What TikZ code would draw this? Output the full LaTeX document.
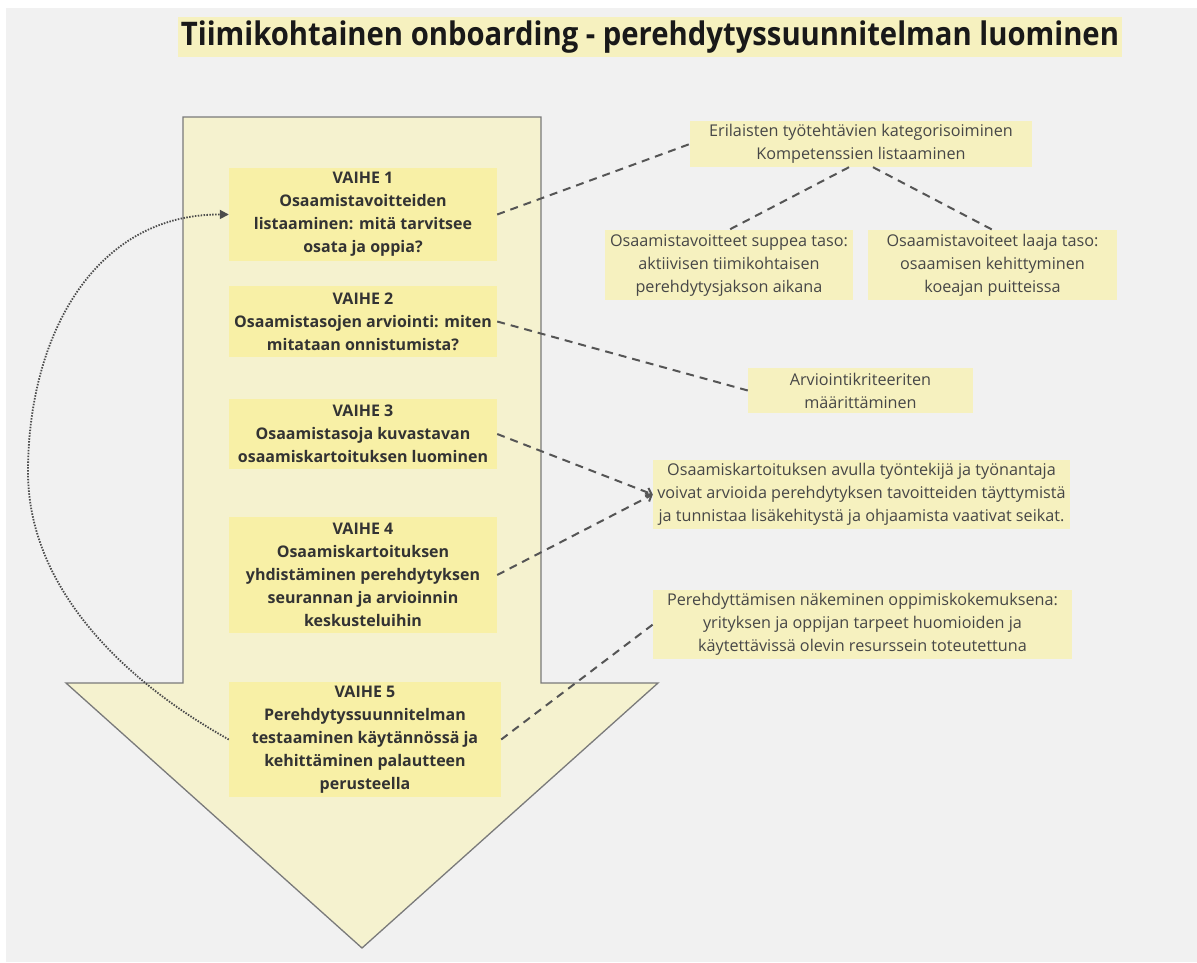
\documentclass[tikz,border=0pt]{standalone}
\usepackage{fontspec}
\setmainfont{Open Sans}
\usetikzlibrary{arrows.meta}
\definecolor{bggray}{HTML}{F1F1F1}
\definecolor{arrowcream}{HTML}{F5F2CF}
\definecolor{arrowline}{HTML}{7A7A7A}
\definecolor{stepyellow}{HTML}{F8F0A6}
\definecolor{noteyellow}{HTML}{F6F1BF}
\definecolor{textdark}{HTML}{333333}
\definecolor{linkgray}{HTML}{555555}
\tikzset{
    titlebox/.style = {
        rectangle, fill=noteyellow, text=black!90,
        font=\bfseries\fontsize{32.5}{34}\selectfont,
        minimum width=944pt, minimum height=40pt,
        inner sep=0pt
    },
    vaihe/.style = {
        rectangle, fill=stepyellow, text=textdark,
        font=\bfseries\fontsize{16}{23}\selectfont,
        minimum width=268pt, inner sep=0pt,
        align=center
    },
    notebox/.style = {
        rectangle, fill=noteyellow, text=textdark!90,
        font=\fontsize{16.2}{23}\selectfont,
        inner sep=0pt, align=center
    },
    bigarrow/.style = {
        fill=arrowcream, draw=arrowline, line width=1.3pt
    },
    link/.style = {
        draw=linkgray, line width=2pt, dash pattern=on 8pt off 6pt
    },
    backlink/.style = {
        draw=linkgray!90!black, line width=1.8pt, dash pattern=on 1.5pt off 1.4pt,
        -{Triangle[length=9pt,width=9pt]}
    }
}

\begin{document}
\begin{tikzpicture}[x=1pt, y=-1pt]

\useasboundingbox (0,0) rectangle (1197,962);
\fill[white] (0,0) rectangle (1197,962);
\fill[bggray] (6,8) rectangle (1197,962);

\node (title) [titlebox] at (650,37) {\scalebox{0.9}[1]{Tiimikohtainen onboarding - perehdytyssuunnitelman luominen}};

\draw[bigarrow] (183,117) -- (541,117) -- (541,683) -- (658,683) -- (362,948)
    -- (66,683) -- (183,683) -- cycle;

\node (v1) [vaihe, minimum height=93pt] at (363,214.5) {VAIHE 1\\Osaamistavoitteiden\\listaaminen: mitä tarvitsee\\osata ja oppia?};
\node (v2) [vaihe, minimum height=71pt] at (363,321.5) {VAIHE 2\\Osaamistasojen arviointi: miten\\mitataan onnistumista?};
\node (v3) [vaihe, minimum height=70pt] at (363,434) {VAIHE 3\\Osaamistasoja kuvastavan\\osaamiskartoituksen luominen};
\node (v4) [vaihe, minimum height=116pt] at (363,575) {VAIHE 4\\Osaamiskartoituksen\\yhdistäminen perehdytyksen\\seurannan ja arvioinnin\\keskusteluihin};
\node (v5) [vaihe, minimum width=272pt, minimum height=115pt] at (365,739.5) {VAIHE 5\\Perehdytyssuunnitelman\\testaaminen käytännössä ja\\kehittäminen palautteen\\perusteella};

\node (kat) [notebox, minimum width=342pt, minimum height=46pt] at (861,144) {Erilaisten työtehtävien kategorisoiminen\\Kompetenssien listaaminen};
\node (suppea) [notebox, minimum width=248pt, minimum height=70pt] at (729,265) {Osaamistavoitteet suppea taso:\\aktiivisen tiimikohtaisen\\perehdytysjakson aikana};
\node (laaja) [notebox, minimum width=249pt, minimum height=70pt] at (992.5,265) {Osaamistavoiteet laaja taso:\\osaamisen kehittyminen\\koeajan puitteissa};
\node (kriteeri) [notebox, minimum width=225pt, minimum height=45pt] at (860.5,390.5) {Arviointikriteeriten\\määrittäminen};
\node (kartoitus) [notebox, minimum width=417pt, minimum height=69pt] at (861.5,494.5) {Osaamiskartoituksen avulla työntekijä ja työnantaja\\voivat arvioida perehdytyksen tavoitteiden täyttymistä\\ja tunnistaa lisäkehitystä ja ohjaamista vaativat seikat.};
\node (oppiminen) [notebox, minimum width=419pt, minimum height=69pt] at (862.5,624.5) {Perehdyttämisen näkeminen oppimiskokemuksena:\\yrityksen ja oppijan tarpeet huomioiden ja\\käytettävissä olevin resurssein toteutettuna};

\draw[link] (v1.east) -- (kat.west);
\draw[link] ([xshift=-12pt]kat.south) -- (suppea.north);
\draw[link] ([xshift=12pt]kat.south) -- (laaja.north);
\draw[link] (v2.east) -- (kriteeri.west);
\draw[link, -{Straight Barb[length=5pt,width=9pt]}] (v3.east) -- (kartoitus.west);
\draw[link, -{Straight Barb[length=5pt,width=9pt]}] (v4.east) -- (kartoitus.west);
\draw[link] (v5.east) -- (oppiminen.west);

\coordinate (turn) at (28,472);
\draw[backlink] (v5.west) .. controls (119,678) and (28,585) .. (turn)
    .. controls (28,335) and (95,214) .. (v1.west);

\end{tikzpicture}
\end{document}
